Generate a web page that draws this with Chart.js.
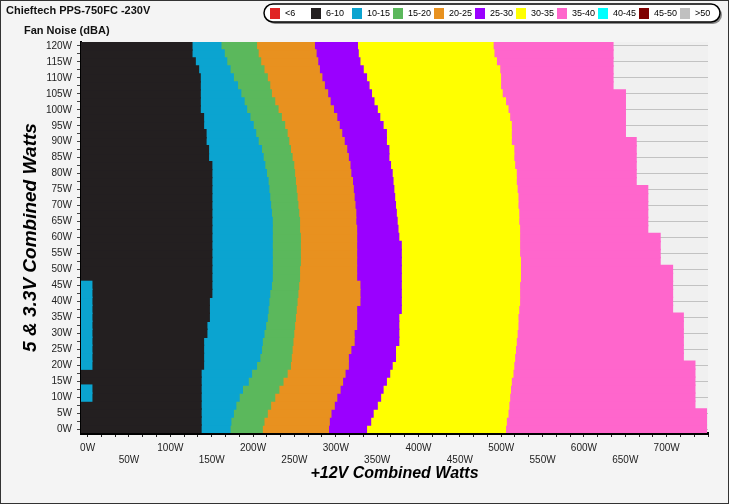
<!DOCTYPE html>
<html>
<head>
<meta charset="utf-8">
<script src="https://cdn.jsdelivr.net/npm/chart.js@4.4.1/dist/chart.umd.min.js"></script>
<style>
  html, body { margin: 0; padding: 0; background: #f3f3f3; }
  canvas { display: block; }
</style>
</head>
<body>
<canvas id="noiseChart" width="729" height="504"></canvas>
<script>
const chartTitle = "Chieftech PPS-750FC -230V";
const chartSubtitle = "Fan Noise (dBA)";

// legend classes (dBA)
const noiseBands = ["<6", "6-10", "10-15", "15-20", "20-25", "25-30", "30-35", "35-40", "40-45", "45-50", ">50"];
const bandColors = ["#e02424", "#231f20", "#0ba4d0", "#5bb85c", "#e8911f", "#9a00ff", "#ffff00", "#ff66cc", "#00ffff", "#7f0000", "#c0c0c0"];

// rows: 5V & 3.3V combined load (W)
const rowWatts = [0, 2.5, 5, 7.5, 10, 12.5, 15, 17.5, 20, 22.5, 25, 27.5, 30, 32.5, 35, 37.5, 40, 42.5, 45, 47.5,
  50, 52.5, 55, 57.5, 60, 62.5, 65, 67.5, 70, 72.5, 75, 77.5, 80, 82.5, 85, 87.5, 90, 92.5, 95, 97.5,
  100, 102.5, 105, 107.5, 110, 112.5, 115, 117.5, 120];

// +12V load (W) where each noise class ends, one value per row
const blackEnd = [137, 137, 137, 137, 137, 137, 137, 137, 140, 140, 140, 140, 144, 144, 147, 147, 147,
  150, 150, 150, 150, 150, 150, 150, 150, 150, 150, 150, 150, 150, 150, 150, 150, 150,
  146, 146, 143, 143, 140, 140, 136, 136, 136, 136, 136, 134, 130, 126, 126];
const blueEnd = [172, 173, 176, 179, 183, 187, 194, 198, 204, 208, 210, 211, 213, 215, 217, 218, 219, 220, 222, 223,
  223, 223, 223, 223, 223, 223, 223, 222, 221, 220, 219, 218, 216, 214, 212, 210, 206, 203, 200, 196,
  192, 189, 185, 181, 176, 172, 168, 165, 161];
const greenEnd = [211, 213, 217, 221, 226, 231, 236, 241, 245, 246, 247, 248, 249, 250, 251, 252, 253, 254, 255, 256,
  256, 257, 257, 257, 257, 256, 256, 255, 254, 253, 252, 251, 250, 249, 247, 245, 243, 241, 238, 234,
  230, 226, 222, 220, 217, 213, 209, 206, 204];
const orangeEnd = [291, 292, 294, 298, 301, 305, 308, 311, 315, 315, 318, 322, 322, 325, 325, 325, 329, 329, 329, 325,
  325, 325, 325, 325, 325, 325, 324, 324, 323, 322, 321, 320, 318, 317, 315, 313, 310, 307, 304, 301,
  297, 293, 290, 286, 283, 280, 278, 276, 274];
const purpleEnd = [337, 342, 345, 350, 354, 357, 361, 365, 368, 372, 372, 376, 376, 376, 376, 379, 379, 379, 379, 379,
  379, 379, 379, 379, 376, 375, 374, 373, 372, 371, 370, 369, 368, 366, 364, 364, 361, 361, 357, 353,
  350, 346, 343, 340, 337, 333, 329, 327, 326];
const yellowEnd = [505, 506, 508, 509, 510, 511, 512, 514, 515, 516, 517, 518, 519, 520, 520, 521, 522, 522, 522, 523,
  523, 523, 522, 522, 522, 522, 521, 521, 520, 520, 519, 518, 518, 516, 515, 515, 512, 512, 512, 510,
  508, 505, 501, 499, 499, 498, 494, 491, 490];
const pinkEnd = [748, 748, 748, 734, 734, 734, 734, 734, 734, 720, 720, 720, 720, 720, 720, 707, 707, 707, 707, 707,
  707, 692, 692, 692, 692, 677, 677, 677, 677, 677, 677, 663, 663, 663, 663, 663, 663, 650, 650, 650,
  650, 650, 650, 635, 635, 635, 635, 635, 635];

// small 10-15 dBA patch at the very left of some rows
const patchRowWatts = [10, 12.5, 20, 22.5, 25, 27.5, 30, 32.5, 35, 37.5, 40, 42.5, 45];
const patchEnd = 5;

const xLabelWatts = [0, 50, 100, 150, 200, 250, 300, 350, 400, 450, 500, 550, 600, 650, 700];
const xMin = -8, xMax = 750;

const font = '"Liberation Sans", Arial, sans-serif';

const hasPatch = rowWatts.map(w => patchRowWatts.includes(w));
const blackStart = hasPatch.map(p => p ? patchEnd : xMin);

function band(idx, starts, ends) {
  return {
    label: noiseBands[idx],
    data: ends.map((e, i) => [starts[i], e]),
    backgroundColor: bandColors[idx]
  };
}

const datasets = [
  { label: "patch", data: hasPatch.map(p => p ? [xMin, patchEnd] : null), backgroundColor: bandColors[2] },
  band(1, blackStart, blackEnd),
  band(2, blackEnd, blueEnd),
  band(3, blueEnd, greenEnd),
  band(4, greenEnd, orangeEnd),
  band(5, orangeEnd, purpleEnd),
  band(6, purpleEnd, yellowEnd),
  band(7, yellowEnd, pinkEnd)
];

// minor ticks every 50/3 W along the +12V axis
const xTicks = [];
for (let k = 0; k <= 45; k++) xTicks.push(k * 50 / 3);

const decor = {
  id: "decor",
  beforeDraw(chart) {
    const c = chart.ctx, a = chart.chartArea;
    c.save();
    c.fillStyle = "#f4f4f4";
    c.fillRect(0, 0, chart.width, chart.height);
    c.fillStyle = "#f0f0f0";
    c.fillRect(a.left, a.top, a.right - a.left, a.bottom - a.top);
    c.restore();
  },
  afterDraw(chart) {
    const c = chart.ctx;
    c.save();
    c.strokeStyle = "#333";
    c.lineWidth = 1;
    c.strokeRect(0.5, 0.5, chart.width - 1, chart.height - 1);

    c.fillStyle = "#111";
    c.textBaseline = "middle";
    c.font = "bold 11px " + font;
    c.fillText(chartTitle, 6, 11);
    c.fillText(chartSubtitle, 24, 31);

    // legend box with shadow
    const bx = 264, by = 4, bw = 456, bh = 18;
    c.fillStyle = "#8a8a8a";
    c.beginPath(); c.roundRect(bx + 2, by + 2, bw, bh, 9); c.fill();
    c.fillStyle = "#ffffff";
    c.beginPath(); c.roundRect(bx, by, bw, bh, 9); c.fill();
    c.strokeStyle = "#000"; c.lineWidth = 1.5; c.stroke();

    c.font = "9px " + font;
    noiseBands.forEach((name, i) => {
      const x = 270 + i * 41;
      c.fillStyle = bandColors[i];
      c.fillRect(x, 8, 10, 11);
      c.fillStyle = "#000";
      c.fillText(name, x + 15, 14);
    });
    c.restore();
  }
};

new Chart(document.getElementById("noiseChart"), {
  type: "bar",
  data: { labels: rowWatts.map(w => w + "W"), datasets: datasets },
  options: {
    indexAxis: "y",
    responsive: false,
    animation: false,
    layout: { padding: { top: 42, right: 21, left: 0, bottom: 0 } },
    datasets: { bar: { grouped: false, barPercentage: 1, categoryPercentage: 1, borderWidth: 0, inflateAmount: 0.7 } },
    plugins: { legend: { display: false }, tooltip: { enabled: false } },
    scales: {
      x: {
        type: "linear",
        min: xMin,
        max: xMax,
        z: 1,
        afterBuildTicks: axis => { axis.ticks = xTicks.map(v => ({ value: v })); },
        afterFit: s => { s.height = 71; },
        grid: { drawOnChartArea: false, tickLength: 4, tickColor: "#222" },
        border: { color: "#000", width: 3 },
        ticks: {
          autoSkip: false, maxRotation: 0, padding: 5, color: "#222",
          font: { family: font, size: 10 },
          callback: v => {
            const j = xLabelWatts.findIndex(w => Math.abs(w - v) < 0.01);
            if (j < 0) return "";
            return j % 2 ? ["", xLabelWatts[j] + "W"] : xLabelWatts[j] + "W";
          }
        },
        title: {
          display: true, text: "+12V Combined Watts", color: "#000",
          font: { family: font, size: 16, weight: "bold", style: "italic" },
          padding: { top: 0, bottom: 21 }
        }
      },
      y: {
        reverse: true,
        afterFit: s => { s.width = 81; },
        grid: {
          offset: false,
          color: c => (rowWatts[c.index] % 5 === 0 ? "#c2c2c2" : "rgba(0,0,0,0)"),
          tickLength: 4,
          tickColor: "#444"
        },
        border: { color: "#000", width: 2 },
        ticks: {
          autoSkip: false, padding: 5, color: "#222",
          font: { family: font, size: 10 },
          callback: (v, i) => (rowWatts[i] % 5 === 0 ? rowWatts[i] + "W" : "")
        },
        title: {
          display: true, text: "5 & 3.3V Combined Watts", color: "#000",
          font: { family: font, size: 19, weight: "bold", style: "italic" },
          padding: { top: 19, bottom: 0 }
        }
      }
    }
  },
  plugins: [decor]
});
</script>
</body>
</html>
